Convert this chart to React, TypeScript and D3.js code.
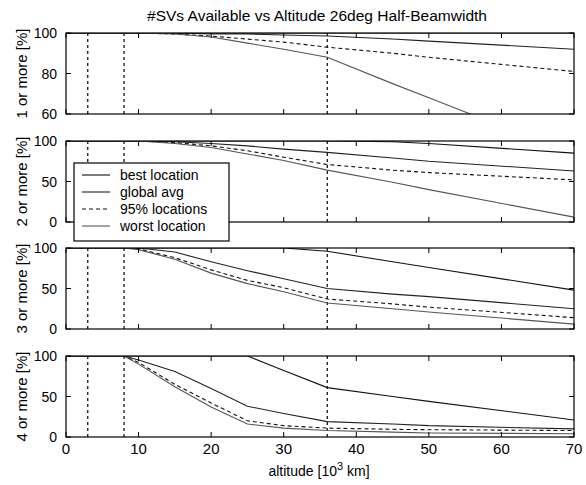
import React from "react";
import * as d3 from "d3";

const TITLE = "#SVs Available vs Altitude 26deg Half-Beamwidth";
const ALT = [0, 8, 10, 15, 20, 25, 30, 36, 45, 50, 70];
const X_TICKS = [0, 10, 20, 30, 40, 50, 60, 70];
const MARK_ALTS = [3, 8, 36];
const SERIES_NAMES = ["best location", "global avg", "95% locations", "worst location"];
const PANEL_LABELS = ["1 or more [%]", "2 or more [%]", "3 or more [%]", "4 or more [%]"];
const Y_DOMAINS: [number, number][] = [[60, 100], [0, 100], [0, 100], [0, 100]];
const Y_TICKS = [[60, 80, 100], [0, 50, 100], [0, 50, 100], [0, 50, 100]];

const best1 = [100, 100, 100, 100, 100, 100, 100, 100, 100, 100, 100];
const global1 = [100, 100, 100, 100, 99.5, 99.5, 99, 98.5, 97, 96, 92];
const p95_1 = [100, 100, 100, 99.5, 98.5, 97, 95.5, 93, 90, 88, 81];
const worst1 = [100, 100, 100, 99.5, 98, 95, 92, 88, 75, 68, 40];

const best2 = [100, 100, 100, 100, 100, 100, 100, 100, 99, 97, 85];
const global2 = [100, 100, 100, 99, 97, 94, 90, 86, 79, 75, 63];
const p95_2 = [100, 100, 100, 98, 94, 88, 80, 71, 64, 61, 52];
const worst2 = [100, 100, 100, 97, 92, 84, 76, 64, 49, 40, 6];

const best3 = [100, 100, 100, 100, 100, 100, 100, 96, 83, 76, 48];
const global3 = [100, 100, 100, 95, 83, 72, 62, 50, 43, 40, 25];
const p95_3 = [100, 100, 99, 88, 73, 60, 51, 37, 31, 27, 14];
const worst3 = [100, 100, 98, 86, 69, 56, 46, 32, 25, 21, 6];

const best4 = [100, 100, 100, 100, 100, 100, 82, 61, 50, 44, 21];
const global4 = [100, 100, 95, 81, 60, 38, 29, 19, 16, 14, 10];
const p95_4 = [100, 100, 92, 65, 42, 20, 14, 11, 9.5, 9, 8];
const worst4 = [100, 100, 90, 62, 37, 16, 11, 8, 6, 5, 4];

const PANEL_SERIES = [
  [best1, global1, p95_1, worst1],
  [best2, global2, p95_2, worst2],
  [best3, global3, p95_3, worst3],
  [best4, global4, p95_4, worst4],
];

const DASHES = [null, null, "4,3", null];
const COLORS = ["#111", "#222", "#111", "#555"];
const FONT = "Liberation Sans, Arial, sans-serif";

export default function App() {
  const W = 586, H = 485;
  const left = 66, right = 574;
  const tops = [33, 141, 248, 356];
  const ph = 81;
  const x = d3.scaleLinear().domain([0, 70]).range([left, right]);
  const tick = 5;

  return (
    <svg width={W} height={H} style={{ position: "absolute", left: 0, top: 0, background: "#fff" }} fontFamily={FONT}>
      <defs>
        {tops.map((t, i) => (
          <clipPath id={`clip${i}`} key={i}>
            <rect x={left} y={t} width={right - left} height={ph} />
          </clipPath>
        ))}
      </defs>
      <text x={147} y={21} fontSize={15.5} textLength={340} lengthAdjust="spacingAndGlyphs">{TITLE}</text>
      {tops.map((t, i) => {
        const y = d3.scaleLinear().domain(Y_DOMAINS[i]).range([t + ph, t]);
        const line = d3.line<number>().x((_, k) => x(ALT[k])).y((v) => y(v));
        return (
          <g key={i}>
            <g clipPath={`url(#clip${i})`}>
              {MARK_ALTS.map((a) => (
                <line key={a} x1={x(a)} x2={x(a)} y1={t} y2={t + ph} stroke="#000" strokeWidth={1.2} strokeDasharray="3,3" />
              ))}
              {PANEL_SERIES[i].map((s, j) => (
                <path key={j} d={line(s) || ""} fill="none" stroke={COLORS[j]} strokeWidth={1.1}
                  strokeDasharray={DASHES[j] || undefined} />
              ))}
            </g>
            <rect x={left} y={t} width={right - left} height={ph} fill="none" stroke="#000" strokeWidth={1.2} />
            {X_TICKS.map((v) => (
              <g key={v}>
                <line x1={x(v)} x2={x(v)} y1={t + ph} y2={t + ph - tick} stroke="#000" />
                <line x1={x(v)} x2={x(v)} y1={t} y2={t + tick} stroke="#000" />
              </g>
            ))}
            {Y_TICKS[i].map((v) => (
              <g key={v}>
                <line x1={left} x2={left + tick} y1={y(v)} y2={y(v)} stroke="#000" />
                <line x1={right} x2={right - tick} y1={y(v)} y2={y(v)} stroke="#000" />
                <text x={left - 9} y={y(v)} dy="0.36em" textAnchor="end" fontSize={14}>{v}</text>
              </g>
            ))}
            <text transform={`translate(${22},${t + ph / 2}) rotate(-90)`} dy="0.35em" textAnchor="middle" fontSize={15}>
              {PANEL_LABELS[i]}
            </text>
            {i === tops.length - 1 &&
              X_TICKS.map((v) => (
                <text key={v} x={x(v)} y={454} textAnchor="middle" fontSize={15}>{v}</text>
              ))}
          </g>
        );
      })}
      <g>
        <rect x={74} y={163} width={155} height={78} fill="#fff" stroke="#000" strokeWidth={1.2} />
        {SERIES_NAMES.map((n, j) => {
          const yy = 175 + j * 17;
          return (
            <g key={n}>
              <line x1={82} x2={110} y1={yy} y2={yy} stroke={COLORS[j]} strokeWidth={1.1}
                strokeDasharray={DASHES[j] || undefined} />
              <text x={120} y={yy} dy="0.36em" fontSize={14}>{n}</text>
            </g>
          );
        })}
      </g>
      <text x={319} y={476} textAnchor="middle" fontSize={14}>
        altitude [10<tspan dy={-6} fontSize={11}>3</tspan><tspan dy={6}> km]</tspan>
      </text>
    </svg>
  );
}
